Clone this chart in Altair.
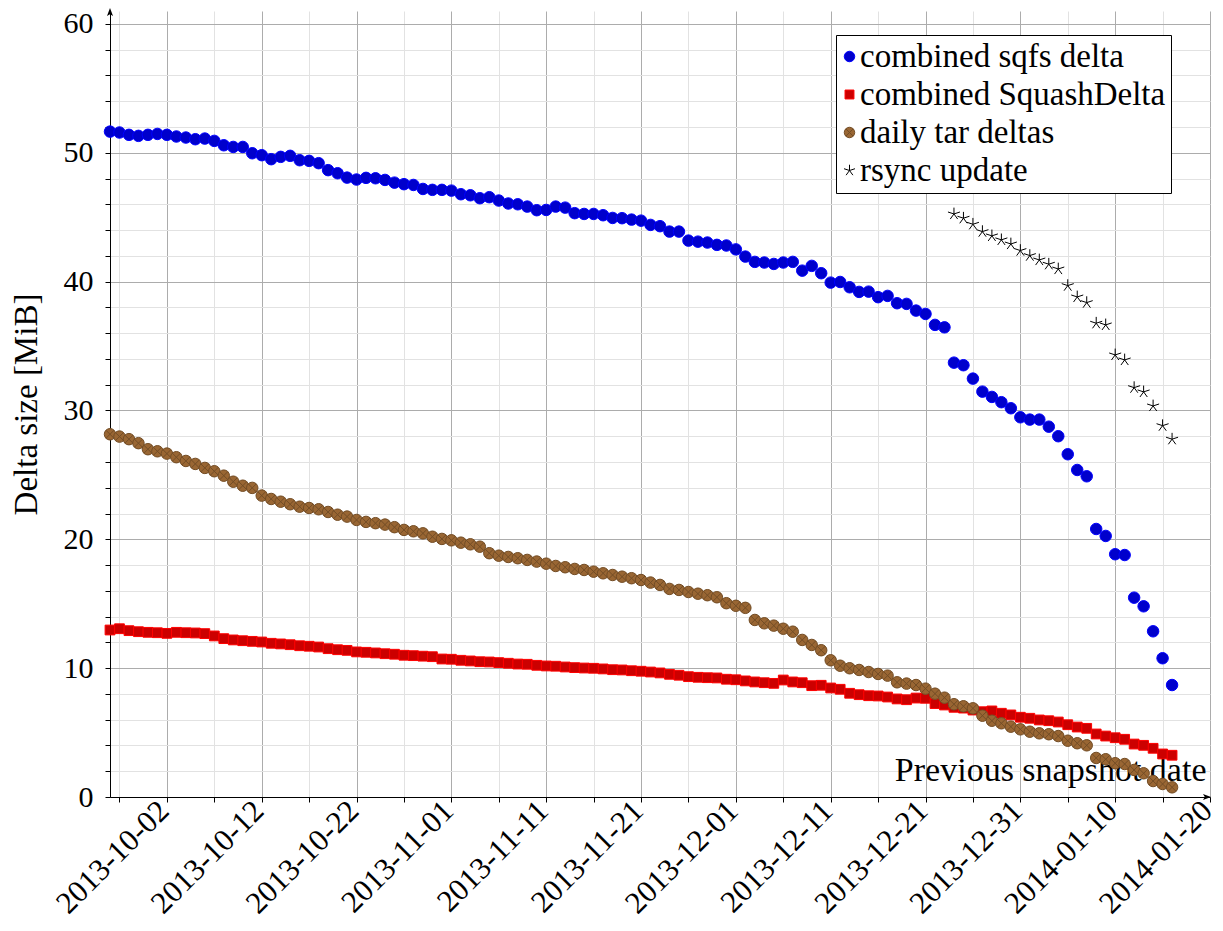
import altair as alt
import pandas as pd

# ---------------- data ----------------
start_date = "2013-09-26"          # first snapshot (daily series)
x_domain = ["2013-09-26", "2014-01-20"]
x_tick_start = "2013-09-27"        # ticks every 5 days, labels every 10 days
x_label_anchor = "2013-10-02"
y_domain = [0, 61]
y_ticks = list(range(0, 61, 2))

sqfs = [51.64, 51.57, 51.39, 51.31, 51.39, 51.46, 51.39, 51.26, 51.18, 51.05,
        51.10, 50.92, 50.58, 50.45, 50.45, 49.96, 49.81, 49.50, 49.68, 49.76,
        49.42, 49.37, 49.19, 48.65, 48.41, 48.07, 47.92, 48.05, 48.02, 47.89,
        47.68, 47.56, 47.50, 47.19, 47.12, 47.12, 47.06, 46.78, 46.70, 46.47,
        46.55, 46.29, 46.06, 46.00, 45.82, 45.54, 45.56, 45.82, 45.74, 45.31,
        45.25, 45.25, 45.15, 44.94, 44.92, 44.81, 44.73, 44.40, 44.30, 43.88,
        43.88, 43.18, 43.10, 43.03, 42.85, 42.80, 42.50, 41.94, 41.53, 41.48,
        41.37, 41.48, 41.53, 40.85, 41.22, 40.65, 39.92, 39.97, 39.56, 39.20,
        39.22, 38.79, 38.89, 38.32, 38.27, 37.75, 37.49, 36.64, 36.45, 33.71,
        33.51, 32.47, 31.46, 31.05, 30.64, 30.17, 29.47, 29.29, 29.29, 28.74,
        28.00, 26.60, 25.38, 24.89, 20.80, 20.26, 18.84, 18.78, 15.47, 14.80,
        12.86, 10.77, 8.69]

squashdelta = [12.96, 13.06, 12.91, 12.83, 12.78, 12.75, 12.70, 12.78, 12.75, 12.73,
               12.68, 12.50, 12.29, 12.19, 12.13, 12.08, 12.03, 11.93, 11.88, 11.82,
               11.74, 11.70, 11.64, 11.51, 11.43, 11.38, 11.26, 11.23, 11.18, 11.12,
               11.08, 11.00, 10.97, 10.93, 10.89, 10.71, 10.69, 10.61, 10.56, 10.50,
               10.48, 10.43, 10.38, 10.32, 10.30, 10.22, 10.17, 10.15, 10.09, 10.04,
               10.01, 9.99, 9.94, 9.88, 9.86, 9.80, 9.76, 9.70, 9.63, 9.52,
               9.45, 9.34, 9.29, 9.26, 9.24, 9.14, 9.10, 9.01, 8.93, 8.87,
               8.82, 9.08, 8.93, 8.87, 8.64, 8.67, 8.46, 8.36, 8.05, 7.94,
               7.86, 7.84, 7.76, 7.61, 7.55, 7.68, 7.66, 7.25, 7.14, 6.96,
               6.90, 6.75, 6.62, 6.68, 6.50, 6.37, 6.19, 6.11, 5.98, 5.92,
               5.82, 5.61, 5.43, 5.33, 4.89, 4.73, 4.60, 4.48, 4.11, 4.01,
               3.78, 3.34, 3.24]

tar = [28.15, 27.97, 27.77, 27.46, 26.99, 26.83, 26.65, 26.37, 26.08, 25.85,
       25.54, 25.28, 24.94, 24.47, 24.16, 23.99, 23.39, 23.13, 22.92, 22.72,
       22.53, 22.43, 22.33, 22.12, 21.91, 21.76, 21.50, 21.35, 21.25, 21.14,
       20.94, 20.73, 20.62, 20.46, 20.20, 20.03, 19.92, 19.74, 19.61, 19.43,
       18.92, 18.73, 18.63, 18.53, 18.40, 18.27, 18.11, 17.93, 17.83, 17.70,
       17.62, 17.49, 17.36, 17.23, 17.10, 16.98, 16.84, 16.64, 16.46, 16.15,
       16.07, 15.91, 15.78, 15.66, 15.50, 15.04, 14.84, 14.68, 13.74, 13.48,
       13.30, 13.06, 12.83, 12.19, 11.80, 11.39, 10.61, 10.19, 9.99, 9.86,
       9.70, 9.55, 9.42, 8.90, 8.80, 8.69, 8.41, 8.02, 7.71, 7.20,
       7.04, 6.88, 6.31, 5.92, 5.72, 5.46, 5.25, 5.07, 4.94, 4.87,
       4.73, 4.37, 4.17, 4.01, 3.03, 2.93, 2.62, 2.56, 2.10, 1.84,
       1.24, 1.01, 0.75]

rsync_start = "2013-12-24"
rsync = [45.25, 44.92, 44.45, 43.88, 43.55, 43.24, 42.92, 42.41, 42.02, 41.68,
         41.35, 40.98, 39.69, 38.81, 38.37, 36.77, 36.64, 34.31, 33.92, 31.77,
         31.44, 30.35, 28.82, 27.77]

series_names = ["combined sqfs delta", "combined SquashDelta",
                "daily tar deltas", "rsync update"]

# ---------------- styles ----------------
FONT = "'Liberation Serif', 'Times New Roman', 'DejaVu Serif', serif"
fills = ["#0000CC", "#CC0000", "#996633", "#000000"]
strokes = ["#0000FF", "#FF0000", "#734D26", "#000000"]
star_path = ("M0,0L0,-1.1M0,0L1.046,-0.34M0,0L0.6466,0.89"
             "M0,0L-0.6466,0.89M0,0L-1.046,-0.34")
shapes = ["circle",
          "M-0.85,-0.85H0.85V0.85H-0.85Z",
          "M1,0A1,1 0 1,1 -1,0A1,1 0 1,1 1,0Z M-0.7,-0.7L0.7,0.7M-0.7,0.7L0.7,-0.7",
          star_path]

W, H = 1100, 786


def ms(d):
    return int(pd.Timestamp(d, tz="UTC").timestamp() * 1000)


rows = []
for name, vals, start in [(series_names[0], sqfs, start_date),
                          (series_names[1], squashdelta, start_date),
                          (series_names[2], tar, start_date),
                          (series_names[3], rsync, rsync_start)]:
    dates = pd.date_range(start, periods=len(vals), freq="D").strftime("%Y-%m-%d")
    for d, v in zip(dates, vals):
        rows.append({"date": d, "value": v, "series": name})
df = pd.DataFrame(rows)

x_tick_values = [ms(d) for d in pd.date_range(x_tick_start, x_domain[1], freq="5D")]
T0 = ms(x_label_anchor)
major_x = f"((datum.value - {T0}) % 864000000) == 0"
major_y = "datum.value % 10 == 0"

GRID_MAJOR = "#acacac"
GRID_MINOR = "#e2e2e2"

x_axis = alt.Axis(
    values=x_tick_values,
    labelExpr=f"{major_x} ? utcFormat(datum.value, '%Y-%m-%d') : ''",
    labelAngle=-45, labelAlign="right", labelBaseline="middle",
    labelFontSize=31, labelPadding=4, labelOffset={"expr": "-3"},
    labelOverlap=False, labelFlush=False,
    labelColor="black", labelFont=FONT,
    tickSize=5, tickColor="black",
    domainColor="black", domainWidth=1,
    grid=True,
    gridColor={"condition": {"test": major_x, "value": GRID_MAJOR}, "value": GRID_MINOR},
    gridWidth=1,
    title="Previous snapshot date", titleFont=FONT, titleFontSize=34,
    titleFontWeight="normal", titleColor="black",
    titleX=1096, titleY=-17, titleAlign="right", titleBaseline="alphabetic",
    titleAngle=0,
)

y_axis = alt.Axis(
    values=y_ticks,
    labelExpr=f"{major_y} ? datum.label : ''",
    labelFontSize=30, labelPadding=12, labelColor="black", labelFont=FONT,
    tickSize=5, tickColor="black",
    domainColor="black", domainWidth=1,
    grid=True,
    gridColor={"condition": {"test": major_y, "value": GRID_MAJOR}, "value": GRID_MINOR},
    gridWidth=1,
    title="Delta size [MiB]", titleFont=FONT, titleFontSize=33,
    titleFontWeight="normal", titleColor="black",
    titleX=-84, titleY=H / 2, titleAngle=-90, titleAlign="center",
    titleBaseline="middle",
)

legend = alt.Legend(
    title=None, orient="none", legendX=726, legendY=24,
    labelFont=FONT, labelFontSize=33, labelColor="black", labelLimit=0,
    labelOffset={"expr": "-6"}, symbolOffset={"expr": "-8"},
    symbolSize=110, symbolStrokeWidth=1,
    rowPadding=4, padding=5, strokeColor="black", fillColor="white",
    cornerRadius=0,
)

points = alt.Chart(df).mark_point(
    filled=True, opacity=1, size=132, strokeWidth=1, clip=False
).encode(
    x=alt.X("date:T",
            scale=alt.Scale(type="utc", domain=[ms(x_domain[0]), ms(x_domain[1])], nice=False),
            axis=x_axis),
    y=alt.Y("value:Q", scale=alt.Scale(domain=y_domain, nice=False, zero=False), axis=y_axis),
    fill=alt.Fill("series:N", scale=alt.Scale(domain=series_names, range=fills), legend=legend),
    stroke=alt.Stroke("series:N", scale=alt.Scale(domain=series_names, range=strokes), legend=legend),
    shape=alt.Shape("series:N", scale=alt.Scale(domain=series_names, range=shapes), legend=legend),
)

anchor = pd.DataFrame({"k": [0]})
x_arrow = alt.Chart(anchor).mark_point(
    shape="M1,0L-1,-0.75L-0.55,0L-1,0.75Z", filled=True, color="black",
    opacity=1, size=64, clip=False
).encode(x=alt.value(W - 3), y=alt.value(H))
y_arrow = alt.Chart(anchor).mark_point(
    shape="M0,-1L0.75,1L0,0.55L-0.75,1Z", filled=True, color="black",
    opacity=1, size=64, clip=False
).encode(x=alt.value(0), y=alt.value(1))

chart = alt.layer(points, x_arrow, y_arrow).properties(
    width=W, height=H,
    autosize=alt.AutoSizeParams(type="none"),
    padding={"left": 102, "top": 3, "right": 5, "bottom": 124},
).configure(font=FONT).configure_view(stroke=None)

chart.save("out.html", embed_options={"renderer": "svg", "actions": False})
